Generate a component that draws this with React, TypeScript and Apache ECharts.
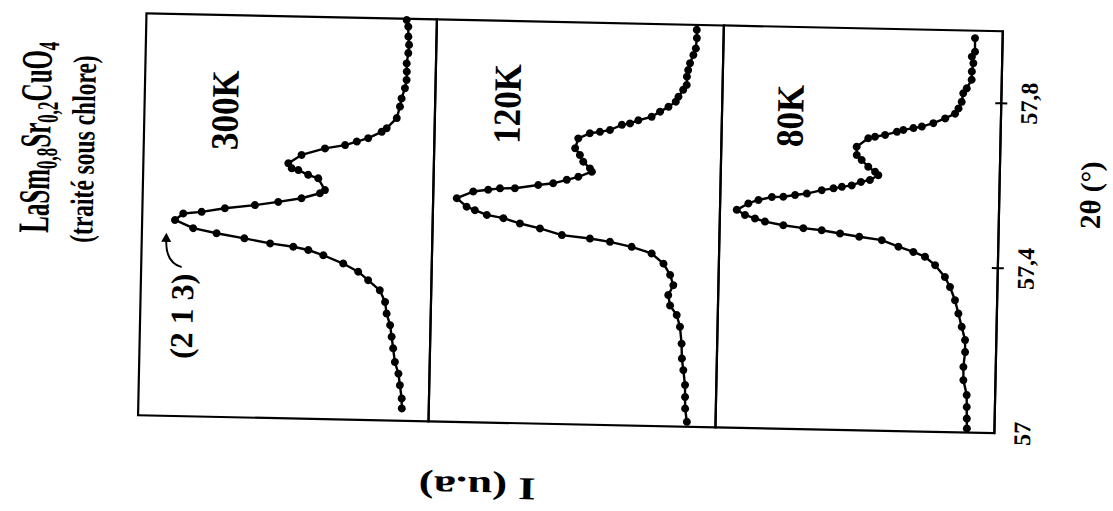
import React, { useEffect, useRef } from "react";
import * as echarts from "echarts";

// 2θ (°) and intensity (u.a., 0 = panel bottom, 100 = panel top)
const theta300 = [57.971, 57.955, 57.931, 57.911, 57.891, 57.866, 57.846, 57.826, 57.806, 57.781, 57.761, 57.733, 57.708, 57.699, 57.683, 57.674, 57.665, 57.656, 57.639, 57.618, 57.606, 57.602, 57.591, 57.583, 57.555, 57.547, 57.534, 57.524, 57.515, 57.506, 57.496, 57.491, 57.475, 57.456, 57.445, 57.434, 57.423, 57.416, 57.409, 57.397, 57.378, 57.359, 57.339, 57.315, 57.287, 57.259, 57.231, 57.203, 57.175, 57.142, 57.114, 57.086, 57.054, 57.03];
const int300 = [10.4, 9.8, 9.7, 9.4, 9.6, 10.1, 10.0, 10.0, 10.5, 11.6, 12.1, 13.1, 16.5, 18.2, 22.8, 26.7, 30.7, 37.6, 45.6, 50.1, 48.9, 46.6, 43.2, 39.7, 37.3, 39.0, 45.3, 53.3, 61.3, 71.6, 79.6, 85.9, 88.7, 82.4, 74.3, 64.7, 55.8, 47.8, 42.6, 37.4, 30.5, 25.3, 21.8, 17.7, 15.8, 15.2, 13.9, 13.3, 12.7, 12.0, 10.7, 10.1, 9.4, 9.3];

const theta120 = [57.962, 57.942, 57.917, 57.901, 57.881, 57.864, 57.848, 57.828, 57.816, 57.799, 57.787, 57.774, 57.762, 57.749, 57.74, 57.732, 57.728, 57.715, 57.71, 57.706, 57.693, 57.669, 57.653, 57.637, 57.621, 57.613, 57.6, 57.592, 57.583, 57.578, 57.569, 57.568, 57.564, 57.559, 57.542, 57.522, 57.514, 57.503, 57.496, 57.484, 57.473, 57.458, 57.451, 57.444, 57.433, 57.418, 57.394, 57.367, 57.342, 57.318, 57.293, 57.27, 57.242, 57.201, 57.165, 57.137, 57.101, 57.072, 57.044, 57.012];
const int120 = [9.4, 9.3, 9.6, 10.4, 11.5, 12.1, 12.5, 12.5, 13.7, 15.3, 16.2, 18.7, 21.6, 24.5, 29.1, 32.0, 34.8, 38.9, 42.4, 45.9, 49.9, 50.9, 49.2, 48.0, 45.6, 44.9, 49.6, 53.6, 58.3, 63.5, 71.6, 76.8, 80.9, 86.1, 91.8, 88.3, 85.4, 81.2, 75.4, 69.6, 62.6, 54.9, 45.1, 38.1, 30.5, 23.5, 19.3, 16.9, 15.7, 17.4, 16.7, 14.3, 13.1, 12.4, 12.2, 11.6, 10.9, 10.8, 10.7, 10.0];

const theta80 = [57.956, 57.923, 57.911, 57.895, 57.875, 57.855, 57.834, 57.822, 57.801, 57.785, 57.772, 57.76, 57.748, 57.739, 57.735, 57.73, 57.725, 57.717, 57.712, 57.708, 57.687, 57.667, 57.655, 57.639, 57.627, 57.619, 57.607, 57.602, 57.593, 57.589, 57.585, 57.58, 57.571, 57.567, 57.562, 57.561, 57.553, 57.544, 57.528, 57.516, 57.508, 57.501, 57.493, 57.487, 57.483, 57.476, 57.469, 57.462, 57.447, 57.435, 57.424, 57.404, 57.376, 57.352, 57.32, 57.288, 57.256, 57.224, 57.195, 57.159, 57.127, 57.091, 57.062, 57.034, 57.01];
const int80 = [9.9, 9.8, 10.9, 10.3, 10.8, 10.8, 12.5, 13.7, 14.2, 15.3, 16.5, 20.0, 24.2, 28.3, 31.3, 34.9, 37.2, 41.4, 45.0, 47.4, 51.5, 51.4, 49.6, 47.2, 44.7, 43.5, 46.5, 49.7, 53.0, 56.5, 59.5, 63.7, 69.0, 73.2, 77.4, 81.5, 86.3, 89.9, 94.0, 91.0, 87.4, 83.8, 77.2, 70.0, 63.4, 56.8, 49.9, 41.8, 35.8, 30.4, 26.2, 22.5, 18.9, 17.0, 15.1, 13.8, 12.5, 11.2, 11.1, 11.6, 11.5, 10.2, 10.1, 10.0, 9.9];

const panelLabels = ["300K", "120K", "80K"];
const thetaTicks = [57, 57.4, 57.8];
const thetaMin = 57;
const thetaMax = 57.974;

const FONT = "Liberation Serif";

export default function App() {
  const ref = useRef<HTMLDivElement>(null);

  useEffect(() => {
    if (!ref.current) return;
    const chart = echarts.init(ref.current, null, { renderer: "svg" });

    const thetas = [theta300, theta120, theta80];
    const ints = [int300, int120, int80];

    const grids = [
      { left: 87, right: 22, top: 141.5, height: 290.5 },
      { left: 87, right: 22, top: 432, height: 287 },
      { left: 87, right: 22, top: 719, height: 279 },
    ].map((g) => ({
      ...g,
      show: true,
      borderColor: "#000",
      borderWidth: 2.2,
      backgroundColor: "transparent",
    }));

    const fmt = (v: number) => {
      const r = Math.round(v * 10) / 10;
      if (!thetaTicks.some((t) => Math.abs(t - v) < 1e-6)) return "";
      return Number.isInteger(r) ? String(r) : r.toFixed(1).replace(".", ",");
    };

    const xAxes: any[] = [0, 1].map((i) => ({
      gridIndex: i,
      type: "value",
      min: thetaMin,
      max: thetaMax,
      show: false,
      splitLine: { show: false },
    }));
    xAxes.push({
      gridIndex: 2,
      type: "value",
      min: thetaMin,
      max: thetaMax,
      interval: 0.4,
      axisLine: { show: true, lineStyle: { color: "#000", width: 2.2 } },
      axisTick: {
        show: true,
        length: 6,
        customValues: [57.4, 57.8],
        lineStyle: { color: "#000", width: 2 },
      },
      axisLabel: {
        show: true,
        customValues: thetaTicks,
        formatter: fmt,
        color: "#000",
        fontFamily: FONT,
        fontWeight: "bold",
        fontSize: 24,
        margin: 16,
      },
      splitLine: { show: false },
    });
    xAxes.push({
      gridIndex: 2,
      type: "value",
      min: thetaMin,
      max: thetaMax,
      interval: 0.4,
      position: "bottom",
      axisLine: { show: false },
      axisTick: {
        show: true,
        inside: true,
        length: 6,
        customValues: [57.4, 57.8],
        lineStyle: { color: "#000", width: 2 },
      },
      axisLabel: { show: false },
      splitLine: { show: false },
    });

    const yAxes = [0, 1, 2].map((i) => ({
      gridIndex: i,
      type: "value",
      min: 0,
      max: 100,
      show: false,
      splitLine: { show: false },
    }));

    const series = [0, 1, 2].map((i) => ({
      type: "line",
      name: panelLabels[i],
      xAxisIndex: i,
      yAxisIndex: i,
      data: thetas[i].map((t, k) => [t, ints[i][k]]),
      symbol: "circle",
      symbolSize: 8,
      showSymbol: true,
      itemStyle: { color: "#000" },
      lineStyle: { color: "#000", width: 2.4 },
      silent: true,
    }));

    const txt = (
      text: string,
      x: number,
      y: number,
      size: number,
      extra: any = {},
      styleExtra: any = {}
    ) => ({
      type: "text",
      x,
      y,
      silent: true,
      ...extra,
      style: {
        text,
        x: 0,
        y: 0,
        fill: "#000",
        fontFamily: FONT,
        fontWeight: "bold",
        fontSize: size,
        align: "center",
        verticalAlign: "middle",
        textAlign: "center",
        textVerticalAlign: "middle",
        ...styleExtra,
      },
    });

    const labelPos = [
      [394, 222],
      [406, 504],
      [400, 787],
    ];

    const graphic: any[] = [
      txt("{m|LaSm}{s|0,8}{m|Sr}{s|0,2}{m|CuO}{s|4}", 363, 33, 25, { scaleY: 1.75 }, {
        rich: {
          m: { fontFamily: FONT, fontWeight: "bold", fontSize: 25, fill: "#000" },
          s: { fontFamily: FONT, fontWeight: "bold", fontSize: 17, fill: "#000", padding: [13, 0, 0, 0] },
        },
      }),
      txt("(traité sous chlore)", 352, 81, 23.5, { scaleY: 1.4 }),
      ...panelLabels.map((l, i) => txt(l, labelPos[i][0], labelPos[i][1], 35, { scaleY: 1.1 })),
      txt("(2 1 3)", 187, 183, 32),
      txt("2θ (°)", 327, 1089, 29),
      txt("I (u.a)", 21, 482, 32, { rotation: Math.PI / 2, scaleX: 1.4 }),
      {
        type: "bezierCurve",
        silent: true,
        shape: { x1: 236, y1: 182, cpx1: 240, cpy1: 166, x2: 262, y2: 166 },
        style: { stroke: "#000", lineWidth: 2, fill: "none" },
      },
      {
        type: "polygon",
        silent: true,
        shape: { points: [[270, 166], [261, 161], [261, 171]] },
        style: { fill: "#000" },
      },
    ];

    chart.setOption({
      animation: false,
      backgroundColor: "#fff",
      grid: grids,
      xAxis: xAxes,
      yAxis: yAxes,
      series,
      graphic,
    });

    return () => chart.dispose();
  }, []);

  return (
    <div
      style={{
        position: "fixed",
        left: 0,
        top: 0,
        width: 1113,
        height: 511,
        overflow: "hidden",
        background: "#fff",
      }}
    >
      <div
        ref={ref}
        style={{
          position: "absolute",
          left: 301,
          top: -301,
          width: 511,
          height: 1113,
          transform: "rotate(-88.8deg)",
        }}
      />
    </div>
  );
}
